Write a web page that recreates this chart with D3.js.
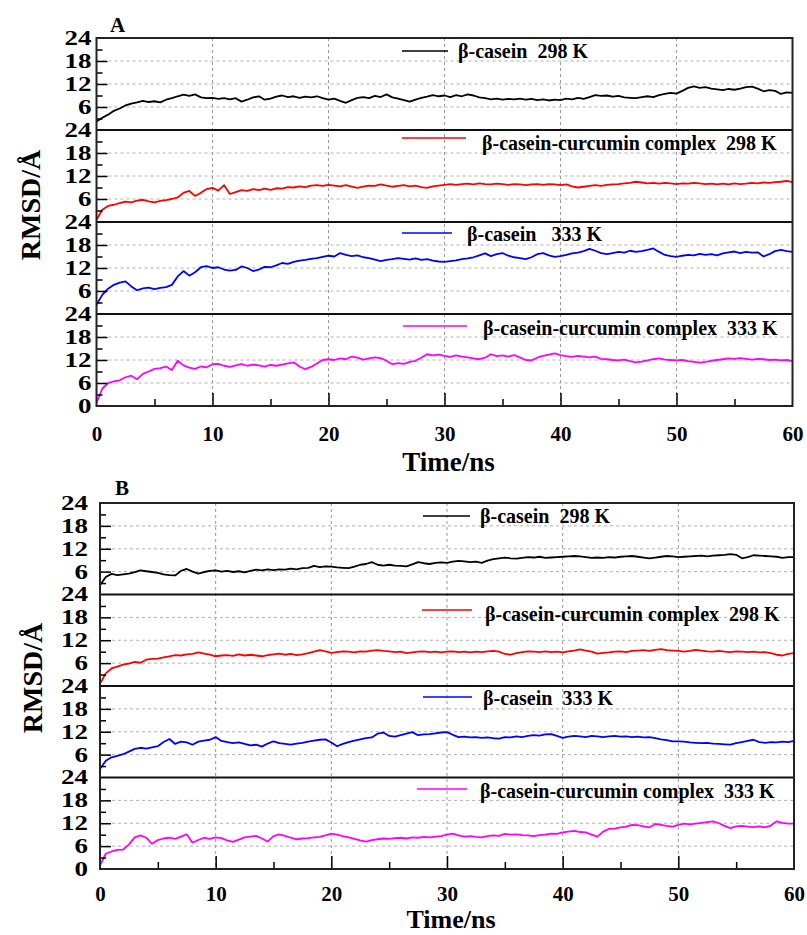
<!DOCTYPE html>
<html>
<head>
<meta charset="utf-8">
<script src="https://cdn.jsdelivr.net/npm/d3@7/dist/d3.min.js"></script>
<style>
  html, body { margin: 0; padding: 0; background: #fff; }
  svg { display: block; }
  text { font-family: "Liberation Serif", "Times New Roman", serif; font-weight: bold; fill: #000; }
</style>
</head>
<body>
<svg id="chart" width="807" height="935"></svg>
<script>
// RMSD (Å) sampled every 0.5 ns from 0 to 60 ns
const sampleStep = 0.5;

const aCasein298 = [2.2,3.2,4.0,5.0,5.6,6.4,6.9,7.2,7.6,7.3,7.5,7.2,7.9,8.3,8.8,9.2,8.9,9.3,8.5,8.3,
  8.4,8.1,8.3,8.0,8.3,7.4,7.9,8.5,8.8,7.9,8.2,8.7,9.0,8.6,8.8,8.4,8.7,8.5,8.8,8.3,
  7.9,8.2,7.6,7.1,7.8,8.4,8.6,8.3,8.9,8.6,9.3,8.5,8.2,7.8,7.4,7.9,8.4,8.7,9.1,8.8,
  9.0,8.6,9.1,8.8,9.3,9.0,8.5,8.3,8.0,8.2,7.9,8.1,8.0,8.2,7.9,8.1,7.8,8.0,7.7,7.9,
  7.8,8.2,8.0,8.4,8.1,8.6,9.1,8.9,9.0,8.7,8.9,8.5,8.4,8.3,8.6,8.8,8.6,9.1,9.4,9.7,
  9.5,10.2,11.0,11.4,11.0,11.2,10.8,10.6,10.4,10.7,10.5,10.8,11.2,11.3,10.8,10.1,10.4,10.2,9.4,9.8,9.7];

const aComplex298 = [0.6,3.2,4.2,4.5,4.9,5.3,5.1,5.6,5.8,5.4,5.1,5.5,5.7,6.0,6.4,7.6,8.1,6.8,7.6,8.6,
  8.9,8.2,9.6,7.3,7.8,8.3,8.1,8.6,8.3,8.7,8.4,8.8,8.7,9.1,9.0,9.3,9.1,9.5,9.6,9.4,
  9.7,9.5,9.3,9.6,9.2,8.9,9.2,9.5,9.4,9.8,9.5,9.2,9.4,9.6,9.3,9.5,9.1,8.9,9.3,9.5,
  9.7,9.9,9.7,9.9,10.0,9.8,10.1,9.9,9.8,10.0,9.9,9.7,9.9,9.8,9.6,9.8,9.9,9.7,9.9,9.8,
  9.6,9.8,9.3,9.0,9.2,9.4,9.6,9.4,9.7,9.8,9.9,10.1,10.2,10.5,10.3,10.1,10.2,10.0,10.2,10.1,
  9.9,10.1,10.0,10.2,10.1,9.9,10.0,9.8,10.0,9.8,10.1,9.9,10.0,10.2,10.1,10.3,10.2,10.4,10.5,10.7,10.4];

const aCasein333 = [2.4,5.0,6.6,7.6,8.2,8.5,7.2,6.2,6.7,6.9,6.5,6.8,7.0,7.6,9.8,11.2,10.0,10.9,12.2,12.5,
  12.0,12.2,11.6,11.3,11.5,12.4,12.0,11.2,11.6,12.3,12.2,12.7,13.3,13.1,13.6,13.9,14.1,14.4,14.6,14.9,
  15.2,15.0,15.9,15.4,15.1,15.3,14.8,14.6,14.2,13.8,14.1,14.3,14.6,14.4,14.2,14.5,14.1,14.3,13.9,13.7,
  13.6,13.8,14.0,14.3,14.5,14.8,15.3,15.8,15.1,15.6,15.9,15.2,14.8,14.6,14.3,14.8,15.6,15.9,15.3,14.9,
  15.1,15.4,15.8,16.0,16.4,17.0,16.5,15.9,15.6,15.9,16.2,16.0,16.5,16.2,16.4,16.7,17.1,16.2,15.4,15.1,
  14.9,15.2,15.4,15.3,15.7,15.4,15.6,15.3,15.8,16.1,16.3,15.9,16.2,16.0,16.1,15.0,15.6,16.4,16.7,16.4,16.2];

const aComplex333 = [0.8,4.5,6.0,6.4,6.7,7.5,7.9,7.0,8.4,9.0,9.7,9.9,10.3,9.4,11.8,10.6,10.0,9.7,10.3,10.1,
  10.9,11.0,10.5,10.2,10.6,10.9,10.5,10.8,10.6,10.3,10.7,10.5,10.8,11.1,11.4,10.3,9.6,10.2,11.1,12.0,
  12.2,12.0,12.4,12.2,12.9,12.6,12.1,12.4,12.7,12.5,11.8,10.9,11.2,11.0,11.5,11.8,12.6,13.5,13.2,13.4,
  13.1,12.8,13.2,12.9,12.7,12.4,12.2,12.6,13.5,13.0,13.2,12.9,13.3,12.7,12.0,11.9,12.6,13.1,13.4,13.7,
  13.3,13.0,12.8,13.1,12.9,12.7,12.9,12.3,12.2,12.0,11.9,12.1,11.7,11.4,11.6,11.9,12.2,12.4,12.1,12.0,
  11.9,12.0,11.7,11.5,11.3,11.5,11.8,12.0,12.2,12.4,12.3,12.5,12.3,12.1,12.3,12.2,12.0,12.1,11.9,12.0,11.7];

const bCasein298 = [2.4,4.6,5.4,5.1,5.3,5.5,5.9,6.3,6.1,5.9,5.7,5.3,5.1,5.0,6.2,6.7,6.0,5.5,5.9,6.2,
  6.3,6.0,6.2,5.9,6.1,5.8,6.2,6.5,6.3,6.6,6.4,6.6,6.5,6.8,6.6,6.9,7.0,7.5,7.2,7.4,
  7.3,7.1,7.0,6.9,7.3,7.8,8.0,8.5,7.8,7.6,7.8,7.6,7.5,7.4,7.9,8.5,8.2,8.0,8.3,8.4,
  8.3,8.6,8.8,8.7,8.5,8.6,8.3,8.9,9.3,9.5,9.7,9.5,9.4,9.6,9.8,9.7,9.9,9.6,9.7,9.8,
  9.9,10.0,10.1,10.0,9.8,9.6,9.7,9.6,9.8,9.7,9.9,10.0,10.1,9.9,9.7,9.5,9.7,9.9,10.1,10.0,
  9.8,9.9,10.0,10.1,10.2,10.0,10.2,10.3,10.4,10.6,10.4,9.5,9.8,10.3,10.2,10.1,10.0,9.9,9.6,9.8,9.8];

const bComplex298 = [0.6,3.3,4.6,5.1,5.6,5.9,6.3,6.1,6.9,7.1,7.2,7.5,7.8,8.1,8.0,8.3,8.4,8.8,8.5,8.2,
  7.8,8.0,8.1,7.9,8.3,8.0,8.2,8.0,7.8,8.1,8.3,8.5,8.2,8.4,8.1,8.3,8.6,9.0,9.4,9.1,
  8.7,8.9,9.1,9.0,8.8,9.1,9.0,9.3,9.4,9.2,9.1,8.9,9.0,8.6,8.8,9.0,9.1,8.9,9.0,8.8,
  9.0,9.1,8.9,9.0,8.8,9.0,8.9,9.1,9.2,9.0,8.4,8.2,8.6,8.9,9.1,9.0,8.9,9.1,8.9,9.0,
  8.8,9.1,9.3,9.6,9.3,9.0,8.5,8.7,8.8,9.0,9.1,8.9,9.2,9.3,9.4,9.2,9.5,9.7,9.4,9.3,
  9.2,9.0,9.2,9.5,9.3,9.1,9.0,9.2,9.0,8.9,9.1,9.0,8.9,9.0,8.8,8.9,8.6,8.2,8.0,8.4,8.6];

const bCasein333 = [2.2,4.4,5.3,5.7,6.1,6.8,7.5,7.8,7.6,7.9,8.2,9.3,10.1,8.8,9.4,9.2,8.6,9.4,9.7,9.9,
  10.6,9.6,9.3,9.0,9.2,8.8,8.4,8.6,8.1,8.9,9.5,9.0,8.8,8.6,8.9,9.1,9.4,9.7,9.9,10.0,
  9.2,8.2,8.8,9.3,9.7,10.0,10.3,10.5,11.5,11.8,10.9,10.7,11.1,11.5,11.9,11.1,11.3,11.4,11.6,11.8,
  11.9,11.2,10.6,10.7,10.5,10.6,10.4,10.5,10.3,10.2,10.6,10.5,10.8,10.6,10.9,11.1,11.0,11.3,11.4,10.9,
  10.4,10.7,10.9,10.8,10.6,10.9,10.8,10.6,10.8,10.9,10.7,10.8,10.6,10.7,10.5,10.6,10.3,10.0,9.8,9.5,
  9.5,9.4,9.2,9.1,9.0,9.1,8.9,8.8,8.7,8.6,9.0,9.3,9.6,9.9,9.3,9.1,9.3,9.2,9.4,9.3,9.6];

const bComplex333 = [0.9,4.0,4.6,5.0,5.1,6.4,8.3,8.8,8.2,6.6,7.6,8.0,8.2,7.9,8.5,9.1,6.9,7.6,8.2,7.9,
  8.3,8.1,7.5,7.1,7.7,8.3,8.5,8.7,8.0,7.2,8.6,9.1,8.7,8.2,7.8,8.0,8.1,8.3,8.4,8.8,
  9.3,9.0,8.6,8.3,7.9,7.5,7.2,7.6,7.8,8.0,7.9,8.1,8.2,8.0,8.3,8.2,8.4,8.3,8.5,8.6,
  9.0,9.3,8.8,8.5,8.6,8.4,8.3,8.6,8.8,8.7,9.2,9.0,9.1,8.9,8.8,8.6,8.9,9.0,9.3,9.2,
  9.6,9.8,10.0,9.7,9.6,9.0,8.5,9.8,10.5,10.6,10.9,11.1,11.6,11.5,11.2,10.9,11.8,11.6,11.3,11.1,
  11.6,11.9,11.7,11.9,12.1,12.3,12.5,12.0,11.3,10.7,11.2,11.3,11.1,11.0,11.2,10.9,11.4,12.5,12.1,11.9,11.9];

const seriesLabels = [
  "β-casein  298 K",
  "β-casein-curcumin complex  298 K",
  "β-casein  333 K",
  "β-casein-curcumin complex  333 K"
];
const labelsA = [seriesLabels[0], seriesLabels[1], "β-casein   333 K", seriesLabels[3]];
const seriesColors = ["#000000", "#ff0000", "#0000ff", "#ff00ff"];

const xTickLabels = [0, 10, 20, 30, 40, 50, 60];
const yTickLabels = [6, 12, 18, 24];
const yMinorTicks = [3, 9, 15, 21];
const xMinorTicks = [5, 15, 25, 35, 45, 55];
const xGridValues = [10, 20, 30, 40, 50];
const yGridValues = [6, 12, 18];

const panels = [
  {
    letter: "A", left: 96.5, right: 792.5, top: 38, subH: 92,
    series: [aCasein298, aComplex298, aCasein333, aComplex333],
    labels: labelsA,
    legend: [
      { x1: 402, x2: 448, ly: 13, tx: 458, ty: 20 },
      { x1: 402, x2: 466, ly: 8,  tx: 482, ty: 20 },
      { x1: 402, x2: 452, ly: 11, tx: 467, ty: 19 },
      { x1: 403, x2: 467, ly: 12, tx: 483, ty: 21 }
    ],
    letterPos: [110, 32], yLabelX: 40, yLabelY: 205,
    xTitleY: 471, xTitleSize: 27, xTickPad: 20, labelGap: 5
  },
  {
    letter: "B", left: 100, right: 794, top: 503, subH: 91.5,
    series: [bCasein298, bComplex298, bCasein333, bComplex333],
    labels: seriesLabels,
    legend: [
      { x1: 423, x2: 470, ly: 13,   tx: 480, ty: 20 },
      { x1: 422, x2: 472, ly: 15.5, tx: 485, ty: 26 },
      { x1: 423, x2: 472, ly: 11,   tx: 483, ty: 19 },
      { x1: 417, x2: 467, ly: 11.5, tx: 480, ty: 20.5 }
    ],
    letterPos: [115, 495], yLabelX: 42, yLabelY: 678,
    xTitleY: 928, xTitleSize: 26, xTickPad: 17, labelGap: 12
  }
];

const svg = d3.select("#chart");

panels.forEach(p => {
  const g = svg.append("g");
  const bottom = p.top + 4 * p.subH;
  const x = d3.scaleLinear().domain([0, 60]).range([p.left, p.right]);

  // vertical dashed grid through all four strips
  g.selectAll("line.vgrid").data(xGridValues).join("line")
    .attr("x1", d => x(d)).attr("x2", d => x(d))
    .attr("y1", p.top).attr("y2", bottom)
    .attr("stroke", "#9a9a9a").attr("stroke-width", 1).attr("stroke-dasharray", "3,3");

  p.series.forEach((vals, i) => {
    const sTop = p.top + i * p.subH;
    const sBot = sTop + p.subH;
    const y = d3.scaleLinear().domain([0, 24]).range([sBot, sTop]);
    const sg = g.append("g");

    // horizontal dashed grid
    sg.selectAll("line.hgrid").data(yGridValues).join("line")
      .attr("x1", p.left).attr("x2", p.right)
      .attr("y1", d => y(d)).attr("y2", d => y(d))
      .attr("stroke", "#b0b0b0").attr("stroke-width", 1).attr("stroke-dasharray", "3,3");

    // the RMSD trace
    const line = d3.line()
      .x((d, k) => x(k * sampleStep))
      .y(d => y(d));
    sg.append("path").datum(vals)
      .attr("d", line)
      .attr("fill", "none")
      .attr("stroke", seriesColors[i])
      .attr("stroke-width", 1.8)
      .attr("stroke-linejoin", "round");

    // left axis: inward major ticks with labels
    const major = i === 3 ? [0].concat(yTickLabels) : yTickLabels;
    const yAxis = d3.axisLeft(y).tickValues(major).tickSize(-11).tickPadding(0)
      .tickFormat(d3.format("d"));
    const ya = sg.append("g").attr("transform", `translate(${p.left},0)`).call(yAxis);
    ya.select(".domain").remove();
    ya.selectAll(".tick line").filter(d => d === 0 || d === 24).remove();
    ya.selectAll(".tick line").attr("stroke", "#000").attr("stroke-width", 1.5);
    ya.selectAll(".tick text")
      .attr("x", null)
      .attr("transform", `translate(${-p.labelGap},0) scale(1.35,1)`)
      .attr("font-size", 20).attr("font-family", null).attr("fill", "#000");

    // left axis: inward minor ticks
    const yMinor = d3.axisLeft(y).tickValues(yMinorTicks).tickSize(-6).tickFormat("");
    const ym = sg.append("g").attr("transform", `translate(${p.left},0)`).call(yMinor);
    ym.select(".domain").remove();
    ym.selectAll(".tick line").attr("stroke", "#000").attr("stroke-width", 1.5);

    // legend entry
    const lg = p.legend[i];
    sg.append("line")
      .attr("x1", lg.x1).attr("x2", lg.x2)
      .attr("y1", sTop + lg.ly).attr("y2", sTop + lg.ly)
      .attr("stroke", seriesColors[i]).attr("stroke-width", 1.6);
    sg.append("text")
      .attr("x", lg.tx).attr("y", sTop + lg.ty)
      .attr("font-size", 20)
      .style("white-space", "pre")
      .text(p.labels[i]);

    // strip divider
    if (i > 0) {
      sg.append("line")
        .attr("x1", p.left).attr("x2", p.right)
        .attr("y1", sTop).attr("y2", sTop)
        .attr("stroke", "#111").attr("stroke-width", 2);
    }
  });

  // bottom axis: inward ticks
  const xAxis = d3.axisBottom(x).tickValues(xTickLabels).tickSize(-13).tickPadding(p.xTickPad)
    .tickFormat(d3.format("d"));
  const xa = g.append("g").attr("transform", `translate(0,${bottom})`).call(xAxis);
  xa.select(".domain").remove();
  xa.selectAll(".tick line").attr("stroke", "#000").attr("stroke-width", 1.5)
    .filter(d => d === 0 || d === 60).remove();
  xa.selectAll(".tick text").attr("font-size", 21).attr("font-family", null).attr("fill", "#000");

  const xMinor = d3.axisBottom(x).tickValues(xMinorTicks).tickSize(-7).tickFormat("");
  const xm = g.append("g").attr("transform", `translate(0,${bottom})`).call(xMinor);
  xm.select(".domain").remove();
  xm.selectAll(".tick line").attr("stroke", "#000").attr("stroke-width", 1.5);

  // frame
  g.append("rect")
    .attr("x", p.left).attr("y", p.top)
    .attr("width", p.right - p.left).attr("height", bottom - p.top)
    .attr("fill", "none").attr("stroke", "#222").attr("stroke-width", 2);

  // panel letter
  g.append("text").attr("x", p.letterPos[0]).attr("y", p.letterPos[1])
    .attr("font-size", 21).text(p.letter);

  // axis titles
  g.append("text")
    .attr("transform", `translate(${p.yLabelX},${p.yLabelY}) rotate(-90)`)
    .attr("text-anchor", "middle")
    .attr("font-size", 28)
    .text("RMSD/Å");
  g.append("text")
    .attr("x", (p.left + p.right) / 2 + 4).attr("y", p.xTitleY)
    .attr("text-anchor", "middle")
    .attr("font-size", p.xTitleSize)
    .text("Time/ns");
});
</script>
</body>
</html>
